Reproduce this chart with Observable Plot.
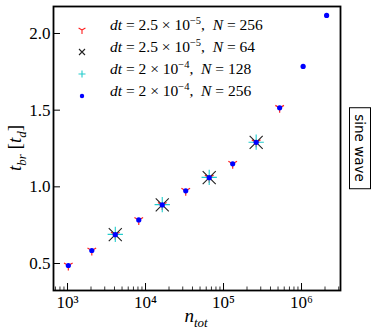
<!DOCTYPE html>
<html><head><meta charset="utf-8">
<script src="https://cdn.jsdelivr.net/npm/d3@7"></script>
<script src="https://cdn.jsdelivr.net/npm/@observablehq/plot@0.6"></script>
<style>
body{margin:0;background:#fff;}
#wrap{position:relative;width:374px;height:336px;font-family:'Liberation Serif',serif;}
.ov{position:absolute;white-space:nowrap;color:#000;}
.leg{position:absolute;left:110px;font-size:15.5px;white-space:nowrap;font-family:'Liberation Serif',serif;}
.leg i{font-style:italic;}
.leg sup{font-size:10.5px;vertical-align:6px;line-height:0;}
.mk{position:absolute;left:77px;}
</style>
</head><body>
<div id="wrap"></div>
<script>
// ---- data ----
const nTot = [1024, 2048, 4096, 8192, 16384, 32768, 65536, 131072, 262144, 524288, 1048576, 2097152];
const tRedN256 = [0.487, 0.585, 0.688, 0.784, 0.882, 0.974, 1.060, 1.150, 1.290, 1.515];
const nTotN64 = [4096, 16384, 65536, 262144];
const tBlackN64 = [0.688, 0.882, 1.060, 1.290];
const tCyanN128 = [0.690, 0.884, 1.062, 1.291];
const tBlueN256 = [0.487, 0.585, 0.688, 0.784, 0.882, 0.974, 1.060, 1.150, 1.290, 1.515, 1.785, 2.118];
const xMajor = [1e3, 1e4, 1e5, 1e6];
const xMinor = [700, 800, 900, 2e3, 3e3, 4e3, 5e3, 6e3, 7e3, 8e3, 9e3, 2e4, 3e4, 4e4, 5e4, 6e4, 7e4, 8e4, 9e4,
  2e5, 3e5, 4e5, 5e5, 6e5, 7e5, 8e5, 9e5, 2e6, 3e6];
const yTicks = [0.5, 1.0, 1.5, 2.0];
const supMap = {3: "³", 4: "⁴", 5: "⁵", 6: "⁶"};

const red = nTot.slice(0, tRedN256.length).map((n, i) => ({n, t: tRedN256[i]}));
const black = nTotN64.map((n, i) => ({n, t: tBlackN64[i]}));
const cyan = nTotN64.map((n, i) => ({n, t: tCyanN128[i]}));
const blue = nTot.map((n, i) => ({n, t: tBlueN256[i]}));

const triDown = {
  draw(ctx, size) {
    const r = Math.sqrt(size / Math.PI);
    ctx.moveTo(0, 0); ctx.lineTo(0, r);
    ctx.moveTo(0, 0); ctx.lineTo(-r * 0.866, -r * 0.5);
    ctx.moveTo(0, 0); ctx.lineTo(r * 0.866, -r * 0.5);
  }
};

const W = 374, H = 336, mL = 53, mR = 34, mT = 6, mB = 46;
const innerW = W - mL - mR, innerH = H - mT - mB;
const SERIF = "'Liberation Serif', serif";

const chart = Plot.plot({
  width: W, height: H,
  marginLeft: mL, marginRight: mR, marginTop: mT, marginBottom: mB,
  style: "font-family: 'Liberation Serif', serif; font-size: 16px; background: white; color: black;",
  x: {type: "log", domain: [661, 3.16e6], axis: null},
  y: {domain: [0.324, 2.176], axis: null},
  marks: [
    Plot.tickX(xMajor, {x: d => d, stroke: "black", strokeWidth: 1, insetTop: innerH - 7}),
    Plot.tickX(xMinor, {x: d => d, stroke: "black", strokeWidth: 0.8, insetTop: innerH - 3.5}),
    Plot.tickY(yTicks, {y: d => d, stroke: "black", strokeWidth: 1, insetRight: innerW - 7}),
    Plot.axisY(yTicks, {tickSize: 0, tickPadding: 3, tickFormat: d3.format(".1f"), label: null, fontSize: 17, fontFamily: SERIF}),
    Plot.axisX(xMajor, {tickSize: 0, tickPadding: 5, tickFormat: d => "10" + supMap[Math.round(Math.log10(d))], label: null, fontSize: 17, fontFamily: SERIF}),
    Plot.dot(red, {x: "n", y: "t", symbol: triDown, r: 5, stroke: "#ff2020", fill: "none", strokeWidth: 1.2}),
    Plot.dot(black, {x: "n", y: "t", symbol: "times", r: 6, stroke: "#222", fill: "none", strokeWidth: 1.1}),
    Plot.dot(cyan, {x: "n", y: "t", symbol: "plus", r: 5, stroke: "#22cccc", fill: "none", strokeWidth: 1.1}),
    Plot.dot(blue, {x: "n", y: "t", r: 2.6, fill: "#0000ff", stroke: "none"}),
    Plot.frame({stroke: "black", strokeWidth: 1.8})
  ]
});

const wrap = document.getElementById("wrap");
chart.style.position = "absolute";
chart.style.left = "0px"; chart.style.top = "0px";
wrap.appendChild(chart);

// legend
const legendItems = [
  {html: '<i>dt</i> = 2.5 × 10<sup>−5</sup>,&nbsp;&nbsp;<i>N</i> = 256', mk: '<path d="M5,5V9M5,5L1.6,3M5,5L8.4,3" stroke="#ff2020" stroke-width="1.1" fill="none"/>'},
  {html: '<i>dt</i> = 2.5 × 10<sup>−5</sup>,&nbsp;&nbsp;<i>N</i> = 64', mk: '<path d="M2,2L8,8M8,2L2,8" stroke="#222" stroke-width="1.1" fill="none"/>'},
  {html: '<i>dt</i> = 2 × 10<sup>−4</sup>,&nbsp;&nbsp;<i>N</i> = 128', mk: '<path d="M5,1.5V8.5M1.5,5H8.5" stroke="#22cccc" stroke-width="1.1" fill="none"/>'},
  {html: '<i>dt</i> = 2 × 10<sup>−4</sup>,&nbsp;&nbsp;<i>N</i> = 256', mk: '<circle cx="5" cy="5" r="2.2" fill="#0000ff"/>'}
];
const rowY = [26, 48, 70, 92];
legendItems.forEach((it, i) => {
  const d = document.createElement("div");
  d.className = "leg";
  d.style.top = (rowY[i] - 10) + "px";
  d.innerHTML = it.html;
  wrap.appendChild(d);
  const m = document.createElement("div");
  m.className = "mk";
  m.style.top = (rowY[i] - 5) + "px";
  m.innerHTML = '<svg width="10" height="10">' + it.mk + '</svg>';
  wrap.appendChild(m);
});

// y label
const yl = document.createElement("div");
yl.className = "ov";
yl.style.cssText += "left:17px;top:148px;font-size:19px;transform:translate(-50%,-50%) rotate(-90deg);";
yl.innerHTML = '<i>t</i><sub style="font-size:13px;font-style:italic">br</sub> [<i>t</i><sub style="font-size:13px;font-style:italic">d</sub>]';
wrap.appendChild(yl);

// x label
const xl = document.createElement("div");
xl.className = "ov";
xl.style.cssText += "left:196px;top:318px;font-size:19px;transform:translate(-50%,-50%);";
xl.innerHTML = '<i>n</i><sub style="font-size:13px;font-style:italic">tot</sub>';
wrap.appendChild(xl);

// side box
const box = document.createElement("div");
box.className = "ov";
box.style.cssText += "left:360px;top:148px;transform:translate(-50%,-50%) rotate(90deg);font-family:'DejaVu Sans',sans-serif;font-size:13.5px;border:1px solid #000;padding:2px 6px;background:#fff;";
box.textContent = "sine wave";
wrap.appendChild(box);
</script>
</body></html>
